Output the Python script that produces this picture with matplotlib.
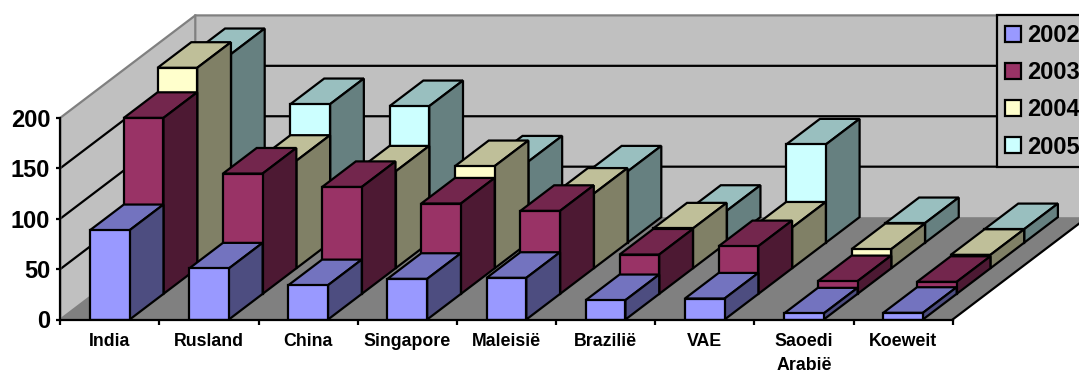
import matplotlib
matplotlib.use("Agg")
import matplotlib.pyplot as plt
from matplotlib.patches import Polygon, Patch

plt.rcParams["font.family"] = ["Liberation Sans", "DejaVu Sans"]
plt.rcParams["font.weight"] = "bold"

categories = ["India", "Rusland", "China", "Singapore", "Maleisië",
              "Brazilië", "VAE", "Saoedi\nArabië", "Koeweit"]
years = ["2002", "2003", "2004", "2005"]
values_2002 = [88.6, 50.6, 34, 40.3, 41.3, 19.2, 20.8, 6, 6.6]
values_2003 = [174.5, 119.3, 106, 89.6, 82.3, 39, 47.3, 12.6, 11.9]
values_2004 = [198.8, 106.6, 96, 101.3, 74, 39.5, 40.4, 19, 13.3]
values_2005 = [187, 137.4, 135.4, 80.5, 70.6, 31.6, 97.4, 19.4, 13.4]
series = [values_2002, values_2003, values_2004, values_2005]

front_colors = ["#9999FF", "#993366", "#FFFFCC", "#CCFFFF"]
top_colors = ["#7373BF", "#73264D", "#BFBF99", "#99BFBF"]
side_colors = ["#4D4D80", "#4D1933", "#808066", "#668080"]
WALL = "#C0C0C0"
FLOOR = "#808080"
value_ticks = [0, 50, 100, 150, 200]

W, H = 1079, 372
PX_LEFT, PX_BASE = 60.3, 319.5      # origin of the chart on the canvas
PX_PER_CAT = 99.15
PX_PER_UNIT = 1.0085
PX_DEPTH_X, PX_DEPTH_Y = 135 / 4, 102.4 / 4  # shift per series slot

EDGE = 1.6
BAR_START, BAR_END = 0.3, 0.7

fig = plt.figure(figsize=(W / 100, H / 100), dpi=100, facecolor="white")
ax = fig.add_axes([PX_LEFT / W, (H - PX_BASE) / H, 1 - PX_LEFT / W, PX_BASE / H])
ax.set_xlim(0, (W - PX_LEFT) / PX_PER_CAT)
ax.set_ylim(0, PX_BASE / PX_PER_UNIT)
ax.patch.set_visible(False)


def proj(cat, value, depth):
    """Oblique projection of (category, value, series depth) to data space."""
    return (cat + depth * PX_DEPTH_X / PX_PER_CAT,
            value + depth * PX_DEPTH_Y / PX_PER_UNIT)


n_cat = len(categories)
n_ser = len(series)
vmax = value_ticks[-1]

# Walls and floor
ax.add_patch(Polygon([proj(0, 0, 0), proj(0, vmax, 0), proj(0, vmax, n_ser), proj(0, 0, n_ser)],
                     fc=WALL, ec="none", zorder=0.5))
ax.add_patch(Polygon([proj(0, 0, n_ser), proj(0, vmax, n_ser), proj(n_cat, vmax, n_ser), proj(n_cat, 0, n_ser)],
                     fc=WALL, ec="none", zorder=0.5))
ax.add_patch(Polygon([proj(0, 0, 0), proj(n_cat, 0, 0), proj(n_cat, 0, n_ser), proj(0, 0, n_ser)],
                     fc=FLOOR, ec="none", zorder=0.55))

# Gridlines run across the side wall and along the back wall
for v in value_ticks[1:-1]:
    pts = [proj(0, v, 0), proj(0, v, n_ser), proj(n_cat, v, n_ser)]
    ax.plot(*zip(*pts), color="black", lw=EDGE, zorder=0.6, solid_joinstyle="miter")

# Wall outline
for pts in ([proj(0, 0, 0), proj(0, vmax, 0), proj(0, vmax, n_ser), proj(n_cat, vmax, n_ser)],
            [proj(0, 0, 0), proj(0, 0, n_ser), proj(0, vmax, n_ser)]):
    ax.plot(*zip(*pts), color=FLOOR, lw=EDGE, zorder=0.7, solid_joinstyle="miter")
ax.plot(*zip(proj(n_cat, 0, 0), proj(n_cat, 0, n_ser)), color="black", lw=EDGE, zorder=0.7)

# Bars, back series first so nearer ones overlap them
for s in reversed(range(n_ser)):
    for c, v in enumerate(series[s]):
        x0, x1 = c + BAR_START, c + BAR_END
        faces = [
            ([proj(x0, v, s), proj(x1, v, s), proj(x1, v, s + 1), proj(x0, v, s + 1)], top_colors[s]),
            ([proj(x1, 0, s), proj(x1, v, s), proj(x1, v, s + 1), proj(x1, 0, s + 1)], side_colors[s]),
            ([proj(x0, 0, s), proj(x1, 0, s), proj(x1, v, s), proj(x0, v, s)], front_colors[s]),
        ]
        for pts, col in faces:
            ax.add_patch(Polygon(pts, closed=True, fc=col, ec="black", lw=EDGE,
                                 joinstyle="miter", zorder=1))

# Axes
for name in ("top", "right"):
    ax.spines[name].set_visible(False)
ax.spines["left"].set_bounds(0, vmax)
ax.spines["bottom"].set_bounds(0, n_cat)
ax.spines["left"].set_linewidth(EDGE)
ax.spines["bottom"].set_linewidth(EDGE)

ax.set_yticks(value_ticks)
ax.tick_params(axis="y", length=3.2, width=EDGE, pad=4, labelsize=17)
ax.set_xticks(range(n_cat + 1), [""] * (n_cat + 1))
ax.tick_params(axis="x", which="major", length=3.6, width=EDGE)
ax.set_xticks([c + 0.5 for c in range(n_cat)], categories, minor=True)
ax.tick_params(axis="x", which="minor", length=0, pad=10, labelsize=12.8)
for lab in ax.get_xticklabels(minor=True):
    lab.set_linespacing(1.48)

# Legend runs past the right edge of the canvas
handles = [Patch(fc=c, ec="black", lw=EDGE) for c in front_colors]
ax.legend(handles, years, loc="upper left",
          bbox_to_anchor=(996.7 / W, 1 - 15.3 / H), bbox_transform=fig.transFigure,
          prop={"size": 17, "weight": "bold", "family": "Liberation Sans"},
          frameon=True, fancybox=False, framealpha=1, facecolor=WALL, edgecolor="black",
          borderaxespad=0, borderpad=0.37, labelspacing=0.6,
          handlelength=0.68, handleheight=0.68, handletextpad=0.25)
ax.get_legend().get_frame().set_linewidth(EDGE)

fig.savefig("out.png", dpi=100, facecolor="white")
